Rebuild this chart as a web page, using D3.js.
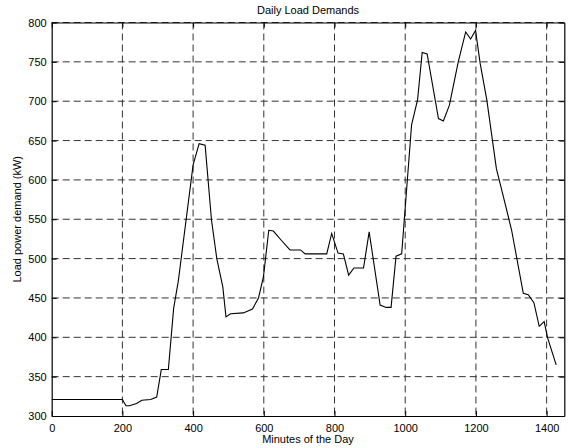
<!DOCTYPE html>
<html><head><meta charset="utf-8">
<script src="https://cdn.jsdelivr.net/npm/d3@7"></script>
<style>
html,body{margin:0;padding:0;background:#fff;}
text{font-family:"Liberation Sans",Arial,Helvetica,sans-serif;}
</style></head>
<body><svg id="c" width="571" height="448"></svg>
<script>
const minutes = [0, 200, 210, 220, 240, 255, 280, 297, 310, 330, 345, 358, 400, 417, 434, 452, 467, 484, 493, 506, 542, 568, 585, 599, 614, 627, 650, 674, 704, 717, 778, 792, 810, 825, 840, 855, 882, 898, 929, 946, 960, 974, 990, 1018, 1035, 1048, 1062, 1094, 1108, 1125, 1150, 1171, 1185, 1199, 1212, 1231, 1258, 1278, 1301, 1334, 1348, 1364, 1379, 1393, 1403, 1427];
const loadKW = [321, 321, 313, 313, 316, 320, 321, 324, 359, 359, 437, 471, 619, 646, 644, 549, 500, 464, 426, 430, 431, 436, 450, 477, 536, 535, 523, 511, 511, 506, 506, 532, 507, 506, 479, 488, 488, 534, 441, 438, 438, 503, 506, 670, 702, 762, 760, 678, 675, 695, 750, 788, 779, 790, 748, 701, 614, 578, 536, 456, 454, 444, 414, 420, 399, 365];
const xTicks = [0, 200, 400, 600, 800, 1000, 1200, 1400];
const yTicks = [300, 350, 400, 450, 500, 550, 600, 650, 700, 750, 800];
const titleText = "Daily Load Demands";
const xLabel = "Minutes of the Day";
const yLabel = "Load power demand (kW)";

const svg = d3.select("#c");
const L = 51.7, R = 564.3, T = 22.5, B = 416;
const x = d3.scaleLinear().domain([0, 1450]).range([L, R]);
const y = d3.scaleLinear().domain([300, 800]).range([B, T]);
const fmt = d3.format("d");

// grid
const g = svg.append("g");
g.selectAll("line.vg").data(xTicks.filter(d => d > 0)).join("line")
  .attr("x1", d => x(d)).attr("x2", d => x(d)).attr("y1", T).attr("y2", B)
  .attr("stroke", "#333").attr("stroke-width", 1).attr("stroke-dasharray", "7,4");
g.selectAll("line.hg").data(yTicks.filter(d => d > 300)).join("line")
  .attr("x1", L).attr("x2", R).attr("y1", d => y(d)).attr("y2", d => y(d))
  .attr("stroke", "#333").attr("stroke-width", 1).attr("stroke-dasharray", "7,4");

// axes
const fs = "11px";
const ax = svg.append("g").attr("transform", `translate(0,${B})`)
  .call(d3.axisBottom(x).tickValues(xTicks).tickFormat(fmt).tickSizeInner(-5).tickSizeOuter(0).tickPadding(8));
const ay = svg.append("g").attr("transform", `translate(${L},0)`)
  .call(d3.axisLeft(y).tickValues(yTicks).tickFormat(fmt).tickSizeInner(-5).tickSizeOuter(0).tickPadding(8));
const axT = svg.append("g").attr("transform", `translate(0,${T})`)
  .call(d3.axisTop(x).tickValues(xTicks).tickSizeInner(-5).tickSizeOuter(0).tickFormat(""));
const ayR = svg.append("g").attr("transform", `translate(${R},0)`)
  .call(d3.axisRight(y).tickValues(yTicks).tickSizeInner(-5).tickSizeOuter(0).tickFormat(""));
[ax, ay, axT, ayR].forEach(a => {
  a.select(".domain").attr("stroke", "#000").attr("stroke-width", 1.2);
  a.selectAll(".tick line").attr("stroke", "#000");
  a.selectAll("text").attr("font-size", fs).attr("fill", "#000")
    .attr("font-family", '"Liberation Sans",Arial,sans-serif');
});
ay.selectAll("text").attr("dx", "3");

// line
const line = d3.line().x((d, i) => x(minutes[i])).y(d => y(d));
svg.append("path").datum(loadKW).attr("d", line)
  .attr("fill", "none").attr("stroke", "#000").attr("stroke-width", 1.1);

// texts
svg.append("text").attr("x", (L + R) / 2).attr("y", 14).attr("text-anchor", "middle")
  .attr("font-size", fs).text(titleText);
svg.append("text").attr("x", (L + R) / 2).attr("y", 443).attr("text-anchor", "middle")
  .attr("font-size", fs).text(xLabel);
svg.append("text").attr("transform", `translate(21,${(T + B) / 2}) rotate(-90)`)
  .attr("text-anchor", "middle").attr("font-size", fs).text(yLabel);
</script></body></html>
